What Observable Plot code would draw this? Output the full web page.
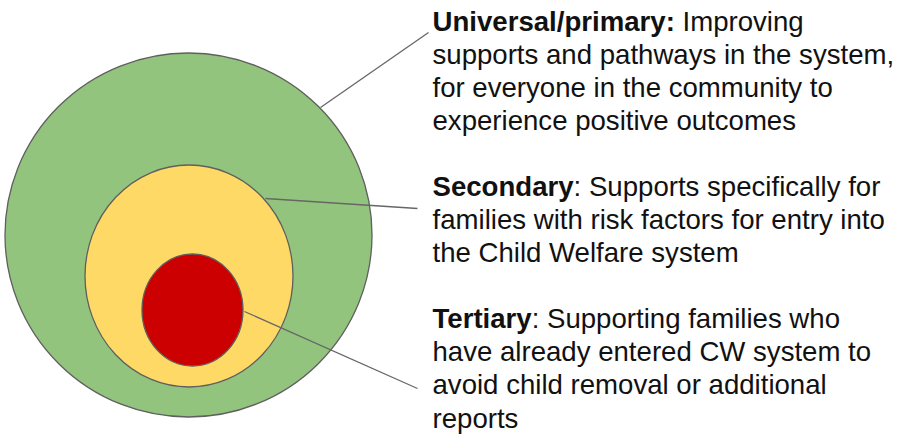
<!DOCTYPE html>
<html>
<head>
<meta charset="utf-8">
<script src="https://cdn.jsdelivr.net/npm/d3@7"></script>
<script src="https://cdn.jsdelivr.net/npm/@observablehq/plot@0.6"></script>
<style>
  html, body { margin: 0; padding: 0; background: #fff; }
  #chart { width: 900px; height: 435px; }
</style>
</head>
<body>
<div id="chart"></div>
<script>
// Levels of prevention (outer to inner)
const levels = ["Universal/primary", "Secondary", "Tertiary"];
const fills = ["#93c47d", "#ffd966", "#cc0000"];
// ellipse centres and radii (pixel units)
const centerX = [188.5, 189, 192.5];
const centerY = [235, 276, 310];
const radiusX = [183.5, 104, 50.5];
const radiusY = [182, 111, 56];

// leader lines
const leaderX1 = [320, 265, 244];
const leaderY1 = [107, 198, 311];
const leaderX2 = [428, 417, 417];
const leaderY2 = [32, 208, 388];

// description text
const boldPrefixes = ["Universal/primary:", "Secondary", "Tertiary"];
const textLines = [
  ["Universal/primary: Improving", "supports and pathways in the system,", "for everyone in the community to", "experience positive outcomes"],
  ["Secondary: Supports specifically for", "families with risk factors for entry into", "the Child Welfare system"],
  ["Tertiary: Supporting families who", "have already entered CW system to", "avoid child removal or additional", "reports"]
];
const firstBaseline = [30, 195, 327.5];
const lineStep = 33.2;
const textX = 432;

const ellipses = levels.map((name, i) => ({name, fill: fills[i], cx: centerX[i], cy: centerY[i], rx: radiusX[i], ry: radiusY[i]}));
const leaders = levels.map((name, i) => ({x1: leaderX1[i], y1: leaderY1[i], x2: leaderX2[i], y2: leaderY2[i]}));
const lines = [];
textLines.forEach((ls, i) => ls.forEach((t, j) => lines.push({text: t, x: textX, y: firstBaseline[i] + j * lineStep, prefix: j === 0 ? boldPrefixes[i] : null})));

function ellipseMark(index, scales, values, dimensions, context) {
  const g = d3.create("svg:g");
  for (const e of ellipses) {
    const cx = scales.x(e.cx), cy = scales.y(e.cy);
    g.append("ellipse")
      .attr("cx", cx).attr("cy", cy)
      .attr("rx", Math.abs(scales.x(e.cx + e.rx) - cx))
      .attr("ry", Math.abs(scales.y(e.cy + e.ry) - cy))
      .attr("fill", e.fill)
      .attr("stroke", "#5f5f5f")
      .attr("stroke-width", 1.3);
  }
  return g.node();
}

const plot = Plot.plot({
  width: 900,
  height: 435,
  margin: 0,
  style: {background: "#fff", fontFamily: "'Liberation Sans', Arial, sans-serif"},
  x: {domain: [0, 900], range: [0, 900], axis: null},
  y: {domain: [0, 435], range: [0, 435], axis: null},
  marks: [
    ellipseMark,
    Plot.link(leaders, {x1: "x1", y1: "y1", x2: "x2", y2: "y2", stroke: "#666", strokeWidth: 1.3}),
    Plot.text(lines, {x: "x", y: "y", text: "text", textAnchor: "start", lineAnchor: "bottom", fontSize: 27.6, fill: "#111"})
  ]
});

// bold the level names at the start of each description
const prefixByText = new Map(lines.filter(d => d.prefix).map(d => [d.text, d.prefix]));
d3.select(plot).selectAll("text").each(function() {
  const t = this.textContent;
  const p = prefixByText.get(t);
  if (!p) return;
  const sel = d3.select(this);
  sel.text(null);
  sel.append("tspan").attr("font-weight", "bold").text(p);
  sel.append("tspan").text(t.slice(p.length).replace(/^ /, "\u00a0"));
});

document.getElementById("chart").append(plot);
</script>
</body>
</html>
